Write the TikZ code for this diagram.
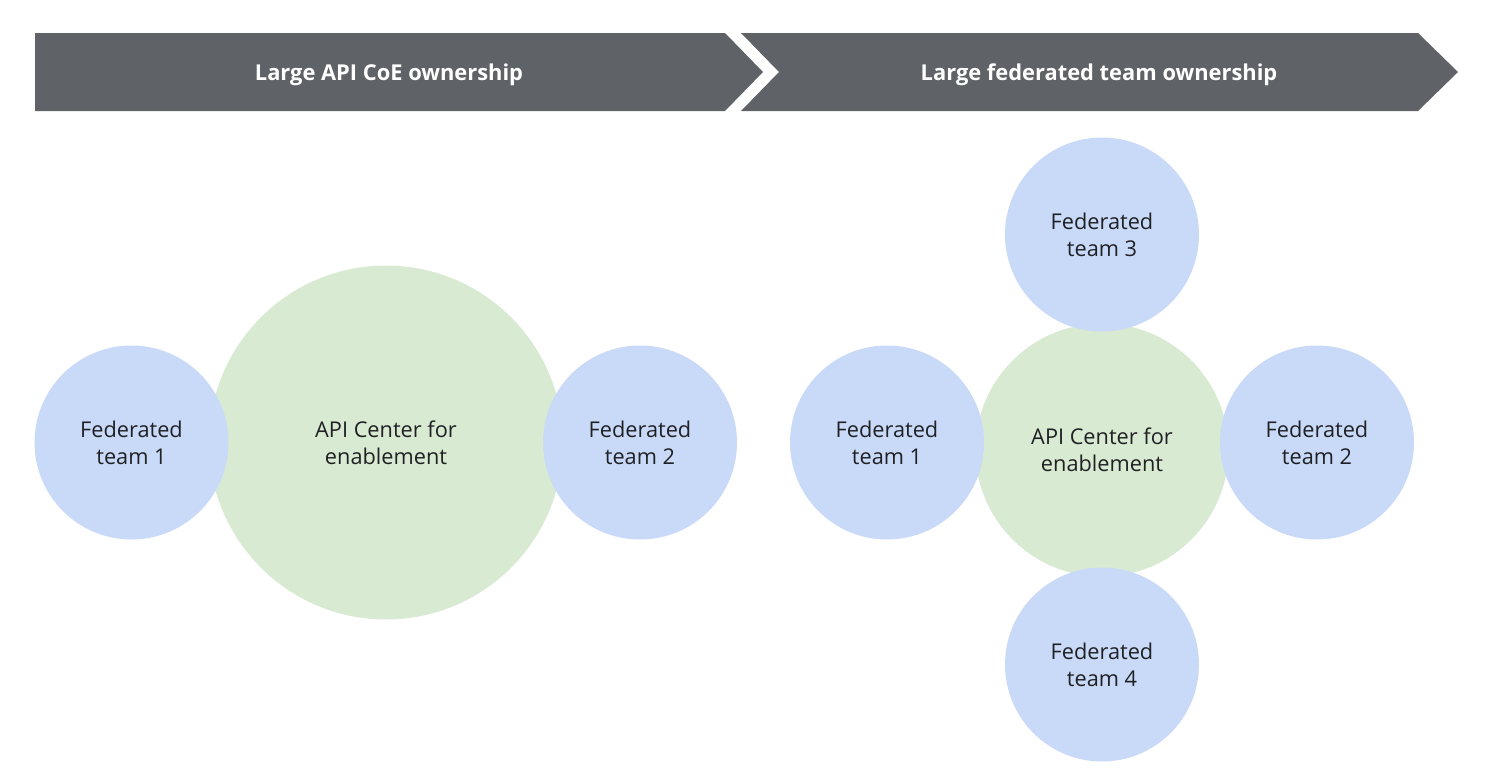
\documentclass[tikz,border=0pt]{standalone}
\usepackage{fontspec}
\setmainfont{Open Sans}
\definecolor{bannergray}{HTML}{5F6368}
\definecolor{teamblue}{HTML}{C9DAF8}
\definecolor{centergreen}{HTML}{D9EAD3}
\definecolor{inktext}{HTML}{202124}
\begin{document}
\begin{tikzpicture}[x=0.75pt,y=-0.75pt,
  banner/.style={fill=bannergray, draw=none},
  bannertext/.style={text=white, font=\fontsize{16.4}{19}\selectfont\bfseries, inner sep=0pt, anchor=base},
  team/.style={circle, fill=teamblue, draw=none, minimum size=145.5pt, inner sep=0pt,
    align=center, text=inktext, font=\fontsize{16.3}{20.3}\selectfont},
  hub/.style={circle, fill=centergreen, draw=none, inner sep=0pt,
    align=center, text=inktext, font=\fontsize{16.3}{20.3}\selectfont}]
\useasboundingbox (0,0) rectangle (1504,768);
% banners
\path[banner] (35,33) -- (725,33) -- (763,72) -- (725,111) -- (35,111) -- cycle;
\path[banner] (741,33) -- (1418,33) -- (1458,72) -- (1418,111) -- (741,111) -- (779,72) -- cycle;
\node[bannertext] (b1) at (389,80) {Large API CoE ownership};
\node[bannertext] (b2) at (1099,80) {Large federated team ownership};
% left group
\node[hub, minimum size=265.5pt] (c1) at (386,442.5) {API Center for\\enablement};
\node[team] (l1) at (131.5,442.5) {Federated\\team 1};
\node[team] (l2) at (640,442.5) {Federated\\team 2};
% right group
\node[hub, minimum size=189.75pt] (c2) at (1102,450) {API Center for\\enablement};
\node[team] (r1) at (887,442.5) {Federated\\team 1};
\node[team] (r2) at (1317,442.5) {Federated\\team 2};
\node[team] (r3) at (1102,234.5) {Federated\\team 3};
\node[team] (r4) at (1102,664.5) {Federated\\team 4};
\end{tikzpicture}
\end{document}
